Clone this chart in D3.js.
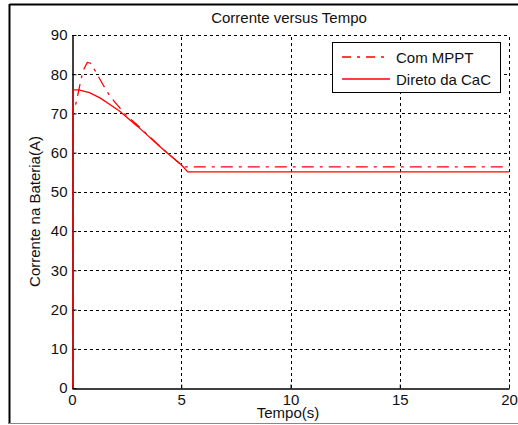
<!DOCTYPE html>
<html>
<head>
<meta charset="utf-8">
<script src="https://cdn.jsdelivr.net/npm/d3@7"></script>
<style>
  html, body { margin: 0; padding: 0; background: #fff; }
  svg { display: block; }
  text { font-family: "Liberation Sans", Arial, sans-serif; }
</style>
</head>
<body>
<svg id="chart" width="518" height="425"></svg>
<script>
// Battery current over time: MPPT charging vs direct connection
const title = "Corrente versus Tempo";
const xLabel = "Tempo(s)";
const yLabel = "Corrente na Bateria(A)";
const xTicks = [0, 5, 10, 15, 20];
const yTicks = [0, 10, 20, 30, 40, 50, 60, 70, 80, 90];
const seriesNames = ["Com MPPT", "Direto da CaC"];

// [time (s), current (A)]
const mpptData = [
  [0.05, 0], [0.05, 72], [0.12, 71.5], [0.2, 73], [0.35, 77], [0.5, 80.8],
  [0.7, 83], [0.85, 82.8], [1.1, 80.5], [1.4, 77.5], [1.75, 74.3], [2.1, 72],
  [2.4, 70], [3.0, 67], [4.0, 61.7], [5.1, 56.4], [20, 56.4]
];
const diretoData = [
  [0.05, 0], [0.05, 76], [0.3, 76], [0.8, 75.3], [1.3, 73.9], [1.75, 72.2],
  [2.2, 70.5], [3.0, 66.7], [4.2, 60.7], [5.0, 56.9], [5.3, 55.1], [20, 55.1]
];

const svg = d3.select("#chart");
const W = 518, H = 425;

// figure frame
svg.append("rect").attr("x", 0).attr("y", 0).attr("width", W).attr("height", H).attr("fill", "#fff");
svg.append("line").attr("x1", 9.5).attr("x2", W).attr("y1", 4.5).attr("y2", 4.5)
  .attr("stroke", "#000").attr("stroke-width", 2);
svg.append("line").attr("x1", 9.5).attr("x2", 9.5).attr("y1", 4).attr("y2", 424)
  .attr("stroke", "#000").attr("stroke-width", 2);
svg.append("line").attr("x1", 9).attr("x2", W).attr("y1", 423.5).attr("y2", 423.5)
  .attr("stroke", "#888").attr("stroke-width", 1);

const x = d3.scaleLinear().domain([0, 20]).range([72, 509]);
const y = d3.scaleLinear().domain([0, 90]).range([388, 35]);

// dotted grid
const grid = svg.append("g").attr("stroke", "#000").attr("stroke-width", 1)
  .attr("stroke-dasharray", "3,3").attr("shape-rendering", "crispEdges");
grid.selectAll(".gx").data(xTicks.filter(d => d > 0)).join("line")
  .attr("x1", d => Math.round(x(d)) + 0.5).attr("x2", d => Math.round(x(d)) + 0.5)
  .attr("y1", y(0)).attr("y2", y(90));
grid.selectAll(".gy").data(yTicks.filter(d => d > 0)).join("line")
  .attr("x1", x(0)).attr("x2", x(20))
  .attr("y1", d => Math.round(y(d)) + 0.5).attr("y2", d => Math.round(y(d)) + 0.5);

// axes with inward ticks
const fontSize = 15;
const gx = svg.append("g").attr("transform", `translate(0,${Math.round(y(0)) + 0.5})`)
  .call(d3.axisBottom(x).tickValues(xTicks).tickFormat(d3.format("d"))
    .tickSizeInner(-4).tickSizeOuter(0).tickPadding(6));
const gy = svg.append("g").attr("transform", `translate(${Math.round(x(0)) + 0.5},0)`)
  .call(d3.axisLeft(y).tickValues(yTicks).tickFormat(d3.format("d"))
    .tickSizeInner(-4).tickSizeOuter(0).tickPadding(5));
[gx, gy].forEach(g => {
  g.select(".domain").attr("stroke", "#000").attr("stroke-width", 1.5);
  g.selectAll(".tick line").attr("stroke", "#000");
  g.selectAll(".tick text").attr("fill", "#111").style("font-size", fontSize + "px")
    .style("font-family", "'Liberation Sans', Arial, sans-serif");
});

// legend box (covers grid)
const lg = svg.append("g");
lg.append("rect").attr("x", 332.5).attr("y", 42.5).attr("width", 168).attr("height", 50)
  .attr("fill", "#fff").attr("stroke", "#000").attr("stroke-width", 1);

// curves
const line = d3.line().x(d => x(d[0])).y(d => y(d[1]));
const plot = svg.append("g");
plot.append("path").datum(diretoData).attr("d", line)
  .attr("fill", "none").attr("stroke", "#ff0000").attr("stroke-width", 1.3);
plot.append("path").datum(mpptData).attr("d", line)
  .attr("fill", "none").attr("stroke", "#ff0000").attr("stroke-width", 1.3)
  .attr("stroke-dasharray", "12,6,3,6");

// legend entries
const entries = [
  { name: seriesNames[0], dash: "9,6,3,6", yy: 57 },
  { name: seriesNames[1], dash: null, yy: 79 }
];
entries.forEach(e => {
  lg.append("line").attr("x1", 342).attr("x2", 390).attr("y1", e.yy).attr("y2", e.yy)
    .attr("stroke", "#ff0000").attr("stroke-width", 1.3)
    .attr("stroke-dasharray", e.dash);
  lg.append("text").attr("x", 396).attr("y", e.yy + 5.5).attr("font-size", fontSize)
    .attr("fill", "#111").text(e.name);
});

// titles
svg.append("text").attr("x", 289).attr("y", 23).attr("text-anchor", "middle")
  .attr("font-size", fontSize).attr("fill", "#111").text(title);
svg.append("text").attr("x", 288).attr("y", 418).attr("text-anchor", "middle")
  .attr("font-size", fontSize).attr("fill", "#111").text(xLabel);
svg.append("text").attr("transform", "translate(40,211.5) rotate(-90)")
  .attr("text-anchor", "middle").attr("font-size", fontSize).attr("fill", "#111").text(yLabel);
</script>
</body>
</html>
